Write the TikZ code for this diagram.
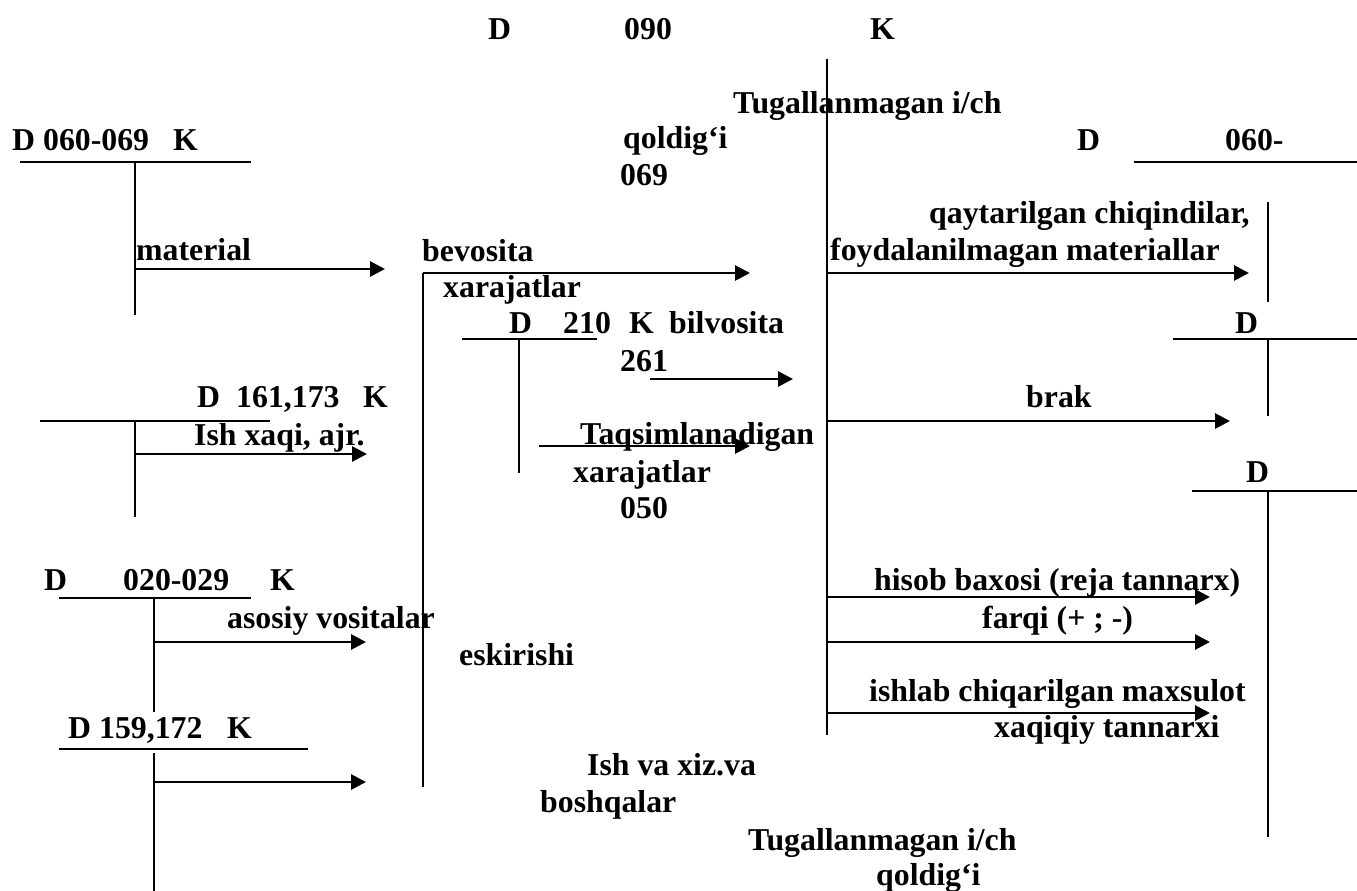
\documentclass[tikz,border=0pt]{standalone}
\usepackage{fontspec}
\setmainfont{Liberation Serif}
\usetikzlibrary{arrows.meta}
\begin{document}
\begin{tikzpicture}[x=1pt,y=-1pt,
  lbl/.style={anchor=base west, inner sep=0pt, font=\fontsize{31.8}{36}\selectfont\bfseries},
  tline/.style={line width=2pt},
  flow/.style={line width=2.8pt, -{Triangle[length=15pt,width=15pt]}},
]
\useasboundingbox (0,0) rectangle (1357,891);

% ---------- account 090 (main) ----------
\node[lbl] (mD) at (488,40) {D};
\node[lbl] (mN) at (624,40) {090};
\node[lbl] (mK) at (870,40) {K};
\coordinate (mTop) at (827,59);
\coordinate (mBot) at (827,735);
\draw[tline] (mTop) -- (mBot);
\node[lbl] (wipA1) at (733,113) {Tugallanmagan i/ch};
\node[lbl] (wipA2) at (623,148) {qoldig‘i};
\node[lbl] (wipA3) at (620,185) {069};

% ---------- account 060-069 ----------
\node[lbl] (aD) at (12,150) {D 060-069};
\node[lbl] (aK) at (173,150) {K};
\coordinate (aL) at (20,162); \coordinate (aR) at (251,162);
\coordinate (aT) at (135,162); \coordinate (aB) at (135,315);
\draw[tline] (aL) -- (aR); \draw[tline] (aT) -- (aB);
\node[lbl] (matl) at (136,260) {material};
\coordinate (aS) at (135,269); \coordinate (aE) at (385,269);
\draw[flow] (aS) -- (aE);

% ---------- collecting line to 090 ----------
\node[lbl] (bev) at (422,261) {bevosita};
\node[lbl] (xar1) at (443,297) {xarajatlar};
\coordinate (cBot) at (423,787); \coordinate (cCorner) at (423,273);
\coordinate (cEnd) at (750,273);
\draw[tline] (cBot) -- (cCorner);
\draw[flow] (cCorner) -- (cEnd);

% ---------- account 210 ----------
\node[lbl] (bD) at (509,333) {D};
\node[lbl] (bN) at (563,333) {210};
\node[lbl] (bK) at (629,333) {K};
\node[lbl] (bil) at (669,333) {bilvosita};
\coordinate (bL) at (462,339); \coordinate (bR) at (597,339);
\coordinate (bT) at (519,339); \coordinate (bB) at (519,473);
\draw[tline] (bL) -- (bR); \draw[tline] (bT) -- (bB);
\node[lbl] (n261) at (620,371) {261};
\coordinate (b1S) at (650,379); \coordinate (b1E) at (793,379);
\draw[flow] (b1S) -- (b1E);
\node[lbl] (taq) at (580,444) {Taqsimlanadigan};
\node[lbl] (xar2) at (573,482) {xarajatlar};
\node[lbl] (n050) at (620,518) {050};
\coordinate (b2S) at (539,446); \coordinate (b2E) at (750,446);
\draw[flow] (b2S) -- (b2E);

% ---------- account 161,173 ----------
\node[lbl] (cD) at (197,407) {D};
\node[lbl] (cN) at (236,407) {161,173};
\node[lbl] (cK) at (363,407) {K};
\coordinate (cL) at (40,421); \coordinate (cR) at (270,421);
\coordinate (cT) at (135,421); \coordinate (cB) at (135,517);
\draw[tline] (cL) -- (cR); \draw[tline] (cT) -- (cB);
\node[lbl] (ish) at (194,445) {Ish xaqi, ajr.};
\coordinate (cS) at (135,454); \coordinate (cE) at (367,454);
\draw[flow] (cS) -- (cE);

% ---------- account 020-029 ----------
\node[lbl] (dD) at (44,590) {D};
\node[lbl] (dN) at (123,590) {020-029};
\node[lbl] (dK) at (270,590) {K};
\coordinate (dL) at (59,598); \coordinate (dR) at (251,598);
\coordinate (dT) at (154,598); \coordinate (dB) at (154,712);
\draw[tline] (dL) -- (dR); \draw[tline] (dT) -- (dB);
\node[lbl] (aso) at (227,628) {asosiy vositalar};
\coordinate (dS) at (154,642); \coordinate (dE) at (366,642);
\draw[flow] (dS) -- (dE);
\node[lbl] (esk) at (459,665) {eskirishi};

% ---------- account 159,172 ----------
\node[lbl] (eD) at (68,738) {D 159,172};
\node[lbl] (eK) at (227,738) {K};
\coordinate (eL) at (59,749); \coordinate (eR) at (308,749);
\coordinate (eT) at (154,753); \coordinate (eB) at (154,891);
\draw[tline] (eL) -- (eR); \draw[tline] (eT) -- (eB);
\coordinate (eS) at (154,782); \coordinate (eE) at (366,782);
\draw[flow] (eS) -- (eE);
\node[lbl] (ishva) at (587,775) {Ish va xiz.va};
\node[lbl] (bosh) at (540,812) {boshqalar};
\node[lbl] (wipB1) at (748,850) {Tugallanmagan i/ch};
\node[lbl] (wipB2) at (876,885) {qoldig‘i};

% ---------- account 060- (returns) ----------
\node[lbl] (fD) at (1077,150) {D};
\node[lbl] (fN) at (1225,150) {060-};
\coordinate (fL) at (1134,162); \coordinate (fR) at (1357,162);
\coordinate (fT) at (1268,202); \coordinate (fB) at (1268,302);
\draw[tline] (fL) -- (fR); \draw[tline] (fT) -- (fB);
\node[lbl] (qay) at (929,223) {qaytarilgan chiqindilar,};
\node[lbl] (foy) at (830,260) {foydalanilmagan materiallar};
\coordinate (fS) at (827,273); \coordinate (fE) at (1249,273);
\draw[flow] (fS) -- (fE);

% ---------- account for defects ----------
\node[lbl] (gD) at (1235,333) {D};
\coordinate (gL) at (1173,339); \coordinate (gR) at (1357,339);
\coordinate (gT) at (1268,339); \coordinate (gB) at (1268,416);
\draw[tline] (gL) -- (gR); \draw[tline] (gT) -- (gB);
\node[lbl] (brak) at (1026,407) {brak};
\coordinate (gS) at (827,421); \coordinate (gE) at (1230,421);
\draw[flow] (gS) -- (gE);

% ---------- account for finished goods ----------
\node[lbl] (hD) at (1246,482) {D};
\coordinate (hL) at (1192,491); \coordinate (hR) at (1357,491);
\coordinate (hT) at (1268,491); \coordinate (hB) at (1268,837);
\draw[tline] (hL) -- (hR); \draw[tline] (hT) -- (hB);
\node[lbl] (his) at (874,590) {hisob baxosi (reja tannarx)};
\coordinate (h1S) at (827,597); \coordinate (h1E) at (1210,597);
\draw[flow] (h1S) -- (h1E);
\node[lbl] (far) at (982,628) {farqi (+ ; -)};
\coordinate (h2S) at (827,642); \coordinate (h2E) at (1210,642);
\draw[flow] (h2S) -- (h2E);
\node[lbl] (ishl) at (869,701) {ishlab chiqarilgan maxsulot};
\coordinate (h3S) at (827,713); \coordinate (h3E) at (1210,713);
\draw[flow] (h3S) -- (h3E);
\node[lbl] (xaq) at (994,737) {xaqiqiy tannarxi};
\end{tikzpicture}
\end{document}
